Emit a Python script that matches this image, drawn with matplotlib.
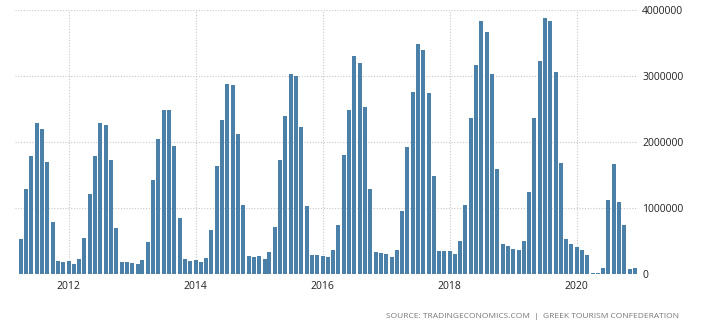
import matplotlib
matplotlib.use("Agg")
import matplotlib.pyplot as plt
import matplotlib.dates as mdates
import pandas as pd

# monthly tourist arrivals, Apr 2011 - Dec 2020
arrivals_2011 = [530000, 1290000, 1790000, 2290000, 2200000, 1700000, 790000, 200000, 180000]
arrivals_2012 = [200000, 150000, 230000, 550000, 1210000, 1790000, 2290000, 2260000, 1730000, 700000, 180000, 180000]
arrivals_2013 = [170000, 150000, 210000, 480000, 1420000, 2050000, 2480000, 2480000, 1940000, 850000, 230000, 200000]
arrivals_2014 = [210000, 180000, 240000, 670000, 1640000, 2330000, 2880000, 2860000, 2120000, 1050000, 270000, 260000]
arrivals_2015 = [270000, 230000, 330000, 710000, 1730000, 2390000, 3030000, 3000000, 2230000, 1030000, 290000, 290000]
arrivals_2016 = [270000, 260000, 360000, 740000, 1800000, 2480000, 3300000, 3200000, 2530000, 1290000, 330000, 320000]
arrivals_2017 = [300000, 260000, 360000, 950000, 1920000, 2760000, 3480000, 3390000, 2740000, 1480000, 350000, 350000]
arrivals_2018 = [350000, 300000, 500000, 1050000, 2360000, 3170000, 3830000, 3670000, 3030000, 1590000, 450000, 420000]
arrivals_2019 = [380000, 360000, 500000, 1240000, 2360000, 3230000, 3880000, 3830000, 3060000, 1680000, 530000, 450000]
arrivals_2020 = [410000, 360000, 290000, 15000, 15000, 90000, 1120000, 1670000, 1090000, 740000, 80000, 90000]

arrivals = (arrivals_2011 + arrivals_2012 + arrivals_2013 + arrivals_2014 + arrivals_2015
            + arrivals_2016 + arrivals_2017 + arrivals_2018 + arrivals_2019 + arrivals_2020)
months = pd.date_range("2011-04-01", periods=len(arrivals), freq="MS")

year_ticks = pd.to_datetime(["2012-01-01", "2014-01-01", "2016-01-01", "2018-01-01", "2020-01-01"])
year_labels = ["2012", "2014", "2016", "2018", "2020"]
y_ticks = [0, 1000000, 2000000, 3000000, 4000000]

bar_color = "#4b80a9"
grid_color = "#c8c8c8"

fig = plt.figure(figsize=(7.13, 3.31), dpi=100)
ax = fig.add_axes([0.021, 0.172, 0.874, 0.798])

ax.bar(months, arrivals, width=23, color=bar_color, zorder=2)

ax.set_xlim(pd.Timestamp("2011-02-27"), pd.Timestamp("2020-12-19"))
ax.set_ylim(0, 4000000)

ax.set_xticks(year_ticks)
ax.set_xticklabels(year_labels)
ax.set_yticks(y_ticks)
ax.set_yticklabels([str(v) for v in y_ticks])
ax.yaxis.tick_right()

ax.tick_params(axis="both", length=0, labelsize=7.5, labelcolor="#222222")
ax.tick_params(axis="x", pad=5)
ax.tick_params(axis="y", pad=3)
for lab in ax.get_xticklabels() + ax.get_yticklabels():
    lab.set_family("Open Sans")

ax.grid(True, linestyle=(0, (1, 1.5)), color=grid_color, linewidth=0.8, zorder=0)
ax.set_axisbelow(True)
for side in ax.spines.values():
    side.set_visible(False)

fig.text(0.952, 0.043, "SOURCE: TRADINGECONOMICS.COM  |  GREEK TOURISM CONFEDERATION",
         ha="right", va="center", fontsize=6, color="#777777", family="Open Sans")

fig.savefig("out.png", dpi=100, facecolor="white")
